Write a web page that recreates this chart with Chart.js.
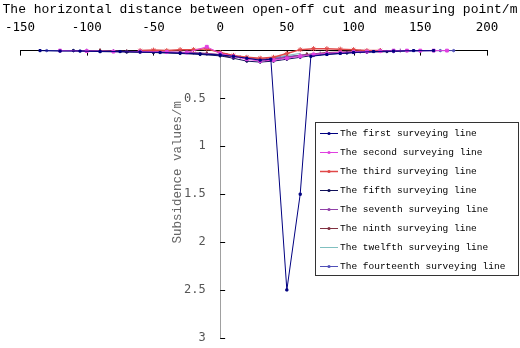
<!DOCTYPE html>
<html>
<head>
<meta charset="utf-8">
<script src="https://cdn.jsdelivr.net/npm/chart.js@4.4.0/dist/chart.umd.min.js"></script>
<style>
  html, body { margin: 0; background: #fff; }
  #wrap { width: 520px; height: 348px; }
</style>
</head>
<body>
<div id="wrap"><canvas id="chart"></canvas></div>
<script>
// x = horizontal distance (m), y = subsidence (m)
const firstX = [-135, -120, -105, -90, -75, -60, -45, -30, -15, 0, 10, 20, 30, 38, 50, 60, 68, 80, 90, 100, 115, 130, 145, 160];
const firstY = [0, 0.005, 0.005, 0.01, 0.01, 0.015, 0.02, 0.025, 0.035, 0.045, 0.06, 0.08, 0.1, 0.09, 2.5, 1.5, 0.06, 0.04, 0.03, 0.02, 0.01, 0.005, 0, 0];

const secondX = [-120, -100, -80, -60, -40, -25, -10, 0, 10, 20, 30, 40, 50, 60, 70, 80, 90, 100, 110, 120, 130, 140, 150, 160, 170];
const secondY = [0, 0.005, 0.01, 0.01, 0.015, 0.02, -0.04, 0.03, 0.06, 0.09, 0.11, 0.1, 0.08, 0.06, 0.04, 0.03, 0.02, 0.015, 0.01, 0.005, 0, 0, 0, 0, 0];

const thirdX = [-60, -50, -40, -30, -20, -10, 0, 10, 20, 30, 40, 50, 60, 70, 80, 90, 100, 110, 120];
const thirdY = [0, -0.005, 0, -0.01, -0.01, -0.02, 0.02, 0.05, 0.07, 0.08, 0.07, 0.03, -0.01, -0.02, -0.02, -0.015, -0.01, 0, 0];

const fifthX = [-110, -90, -70, -50, -30, -15, 0, 10, 20, 30, 40, 50, 60, 70, 80, 95, 110, 125, 140];
const fifthY = [0, 0.01, 0.015, 0.02, 0.03, 0.04, 0.055, 0.08, 0.11, 0.12, 0.11, 0.09, 0.07, 0.05, 0.04, 0.025, 0.015, 0.01, 0];

const seventhX = [-100, -80, -60, -40, -20, 0, 15, 30, 45, 60, 75, 90, 105, 120, 135];
const seventhY = [0, 0.005, 0.01, 0.015, 0.02, 0.04, 0.07, 0.09, 0.08, 0.05, 0.03, 0.02, 0.01, 0.005, 0];

const ninthX = [-90, -70, -50, -30, -10, 5, 20, 35, 50, 65, 80, 100, 120];
const ninthY = [0, 0.01, 0.01, 0.02, 0.03, 0.05, 0.08, 0.1, 0.07, 0.04, 0.02, 0.01, 0];

const twelfthX = [-50, -40, -30, -20, -10, 0, 10, 20, 30, 40, 50, 60];
const twelfthY = [0.01, 0.02, 0.03, 0.03, 0.035, 0.045, 0.06, 0.08, 0.09, 0.07, 0.05, 0.03];

const fourteenthX = [-130, -110, -90, -70, -50, -30, -10, 10, 30, 50, 70, 90, 110, 130, 150, 165, 175];
const fourteenthY = [0, 0, 0.005, 0.01, 0.015, 0.02, 0.035, 0.06, 0.09, 0.06, 0.04, 0.025, 0.015, 0.01, 0.005, 0, 0];

const xTitle = 'The horizontal distance between open-off cut and measuring point/m';
const yTitle = 'Subsidence values/m';

function pts(xs, ys) {
    return xs.map((x, i) => ({ x: x, y: ys[i] }));
}

function series(label, xs, ys, color, style, radius, width) {
    return {
        label: label,
        data: pts(xs, ys),
        borderColor: color,
        backgroundColor: color,
        borderWidth: width || 1,
        pointStyle: style,
        pointRadius: radius,
        pointBorderWidth: 1,
        showLine: true,
        clip: false
    };
}

// tick marks pointing into the plot, like the original
const inwardTicks = {
    id: 'inwardTicks',
    beforeDatasetsDraw(chart) {
        const { ctx, scales: { x, y } } = chart;
        const y0 = y.getPixelForValue(0);
        const x0 = x.getPixelForValue(0);
        ctx.save();
        ctx.strokeStyle = '#000';
        ctx.lineWidth = 1;
        ctx.beginPath();
        x.ticks.forEach(t => {
            const px = Math.round(x.getPixelForValue(t.value)) + 0.5;
            ctx.moveTo(px, y0);
            ctx.lineTo(px, y0 + 5);
        });
        y.ticks.forEach(t => {
            if (t.value === 0) return;
            const py = Math.round(y.getPixelForValue(t.value)) + 0.5;
            ctx.moveTo(x0, py);
            ctx.lineTo(x0 + 5, py);
        });
        ctx.stroke();
        ctx.restore();
    }
};

// y title drawn beside the centred axis
const yAxisTitle = {
    id: 'yAxisTitle',
    afterDraw(chart) {
        const { ctx, scales: { x, y } } = chart;
        ctx.save();
        ctx.translate(x.getPixelForValue(0) - 42, y.getPixelForValue(1.27));
        ctx.rotate(-Math.PI / 2);
        ctx.font = '12.5px "Liberation Mono"';
        ctx.fillStyle = '#666';
        ctx.textAlign = 'center';
        ctx.textBaseline = 'middle';
        ctx.fillText(yTitle, 0, 0);
        ctx.restore();
    }
};

// boxed legend on the right
const boxLegend = {
    id: 'boxLegend',
    afterDraw(chart) {
        const ctx = chart.ctx;
        const left = 315, top = 122, w = 203, h = 153, row = 19;
        ctx.save();
        ctx.fillStyle = '#fff';
        ctx.fillRect(left, top, w, h);
        ctx.strokeStyle = '#333';
        ctx.lineWidth = 1;
        ctx.strokeRect(left + 0.5, top + 0.5, w, h);
        ctx.font = '9.5px "Liberation Mono"';
        ctx.textBaseline = 'middle';
        chart.data.datasets.forEach((ds, i) => {
            const cy = Math.round(top + 11 + i * row) + 0.5;
            ctx.strokeStyle = ds.borderColor;
            ctx.lineWidth = ds.borderWidth;
            ctx.beginPath();
            ctx.moveTo(320, cy);
            ctx.lineTo(338, cy);
            ctx.stroke();
            if (ds.pointRadius > 0) {
                ctx.fillStyle = ds.backgroundColor;
                ctx.beginPath();
                ctx.arc(329, cy, 1.6, 0, Math.PI * 2);
                ctx.fill();
            }
            ctx.fillStyle = '#000';
            ctx.fillText(ds.label, 340, cy);
        });
        ctx.restore();
    }
};

new Chart(document.getElementById('chart'), {
    type: 'scatter',
    data: {
        datasets: [
            series('The first surveying line', firstX, firstY, '#000080', 'rect', 1.5),
            series('The second surveying line', secondX, secondY, '#e040e0', 'rect', 2),
            series('The third surveying line', thirdX, thirdY, '#e04848', 'star', 2.5, 1.5),
            series('The fifth surveying line', fifthX, fifthY, '#10105a', 'circle', 1.2),
            series('The seventh surveying line', seventhX, seventhY, '#9040a8', 'cross', 2),
            series('The ninth surveying line', ninthX, ninthY, '#803040', 'triangle', 2),
            series('The twelfth surveying line', twelfthX, twelfthY, '#80c0c0', 'circle', 0),
            series('The fourteenth surveying line', fourteenthX, fourteenthY, '#5050b8', 'circle', 1.2)
        ]
    },
    options: {
        responsive: true,
        maintainAspectRatio: false,
        animation: false,
        layout: { padding: { left: 0, right: 0, top: 2, bottom: 9 } },
        plugins: {
            legend: { display: false },
            tooltip: { enabled: false },
            title: {
                display: true,
                text: xTitle,
                color: '#000',
                padding: { top: 0, bottom: 0 },
                font: { family: 'Liberation Mono', size: 13, weight: 'normal' }
            }
        },
        scales: {
            x: {
                type: 'linear',
                position: 'top',
                min: -150,
                max: 200,
                afterFit: scale => {
                    scale.height = 33;
                    scale.paddingLeft = 20;
                    scale.paddingRight = 33;
                },
                ticks: {
                    stepSize: 50,
                    maxRotation: 0,
                    padding: 15,
                    color: '#000',
                    font: { family: 'DejaVu Sans Mono', size: 12.5 }
                },
                grid: { drawOnChartArea: false, drawTicks: false },
                border: { color: '#000', width: 1 }
            },
            y: {
                type: 'linear',
                position: { x: 0 },
                reverse: true,
                min: 0,
                max: 3,
                ticks: {
                    stepSize: 0.5,
                    color: '#555',
                    font: { family: 'DejaVu Sans Mono', size: 12 },
                    callback: v => (v === 0 ? '' : v + '  ')
                },
                grid: { drawOnChartArea: false, drawTicks: false },
                border: { color: '#a0a0a0', width: 1 }
            }
        }
    },
    plugins: [inwardTicks, yAxisTitle, boxLegend]
});
</script>
</body>
</html>
